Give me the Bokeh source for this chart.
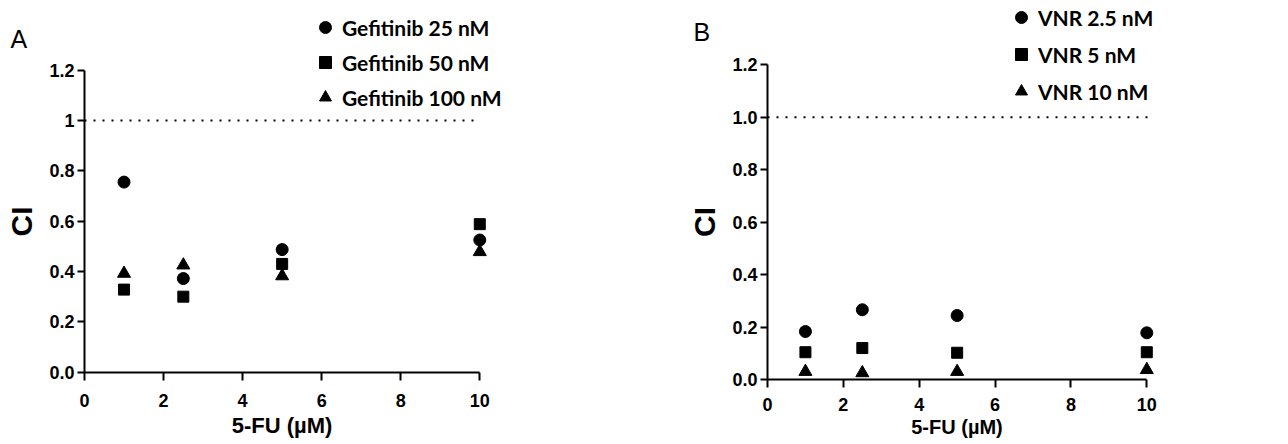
from bokeh.plotting import figure
from bokeh.layouts import row
from bokeh.models import Legend, LegendItem, FixedTicker, NumeralTickFormatter, Label
from bokeh.embed import file_html
from bokeh.resources import INLINE

# ---- data ----
fu_conc = [1, 2.5, 5, 10]

gef_names = ["Gefitinib 25 nM", "Gefitinib 50 nM", "Gefitinib 100 nM"]
gef_25 = [0.755, 0.372, 0.487, 0.525]
gef_50 = [0.328, 0.300, 0.430, 0.588]
gef_100 = [0.392, 0.425, 0.382, 0.478]

vnr_names = ["VNR 2.5 nM", "VNR 5 nM", "VNR 10 nM"]
vnr_25 = [0.183, 0.266, 0.244, 0.178]
vnr_5 = [0.104, 0.120, 0.102, 0.104]
vnr_10 = [0.030, 0.025, 0.030, 0.037]

ci_ticks = [0, 0.2, 0.4, 0.6, 0.8, 1, 1.2]
ci_labels_a = ["0.0", "0.2", "0.4", "0.6", "0.8", "1", "1.2"]
ci_labels_b = ["0.0", "0.2", "0.4", "0.6", "0.8", "1.0", "1.2"]
fu_ticks = [0, 2, 4, 6, 8, 10]
ref_ci = 1.0
ref_x = [0, 10]

x_title = "5-FU (\u00b5M)"
y_title = "CI"

MARKERS = ["circle", "square", "triangle"]
SIZES = [12, 11, 13]


def make_panel(width, x_range, y_range, series, names, tick_labels,
               letter, letter_pos, legend_pos, spacing, xlab_size, ref_end,
               xl_standoff, xt_standoff):
    p = figure(width=width, height=444, x_range=x_range, y_range=y_range,
               output_backend="svg", toolbar_location=None,
               min_border_left=0, min_border_right=0, min_border_top=0,
               min_border_bottom=0)
    p.outline_line_color = None
    p.grid.visible = False
    p.background_fill_color = "white"

    p.line([ref_x[0], ref_end], [ref_ci, ref_ci], line_dash="2 7",
           line_width=2, color="black")

    items = []
    for vals, name, m, s in zip(series, names, MARKERS, SIZES):
        r = p.scatter(fu_conc, vals, marker=m, size=s, color="black")
        items.append(LegendItem(label=name, renderers=[r]))

    leg = Legend(items=items, location=legend_pos, spacing=spacing,
                 padding=0, margin=0, glyph_width=30, glyph_height=30,
                 label_height=30, label_standoff=2,
                 border_line_alpha=0, background_fill_alpha=0,
                 label_text_font="Lato", label_text_font_style="bold",
                 label_text_font_size="21px", label_text_color="black")
    p.add_layout(leg)

    p.add_layout(Label(x=letter_pos[0], y=letter_pos[1], text=letter,
                       text_font="Liberation Sans", text_font_size="25px",
                       text_color="black", text_baseline="middle"))

    for ax in (p.xaxis[0], p.yaxis[0]):
        ax.axis_line_width = 2
        ax.axis_line_color = "black"
        ax.major_tick_line_width = 2
        ax.major_tick_line_color = "black"
        ax.minor_tick_line_color = None
        ax.major_tick_in = 0
        ax.major_label_text_font = "Liberation Sans"
        ax.major_label_text_font_style = "bold"
        ax.major_label_text_font_size = "18px"
        ax.major_label_text_color = "black"
        ax.axis_label_text_font = "Liberation Sans"
        ax.axis_label_text_font_style = "bold"
        ax.axis_label_text_color = "black"

    xa = p.xaxis[0]
    xa.fixed_location = 0
    xa.ticker = FixedTicker(ticks=fu_ticks)
    xa.bounds = (fu_ticks[0], fu_ticks[-1])
    xa.major_tick_out = 8
    xa.major_label_standoff = xt_standoff
    xa.axis_label = x_title
    xa.axis_label_text_font_size = xlab_size
    xa.axis_label_standoff = xl_standoff

    ya = p.yaxis[0]
    ya.fixed_location = 0
    ya.ticker = FixedTicker(ticks=ci_ticks)
    ya.formatter = NumeralTickFormatter(format="0.0")
    ya.major_label_overrides = {t: lab for t, lab in zip(ci_ticks, tick_labels)}
    ya.bounds = (ci_ticks[0], ci_ticks[-1])
    ya.major_tick_out = 7
    ya.major_label_standoff = 3
    ya.axis_label = y_title
    ya.axis_label_text_font_size = "30px"
    ya.axis_label_standoff = 8
    return p


pA = make_panel(638, (-2.125, 14.015), (-0.2871, 1.4762),
                [gef_25, gef_50, gef_100], gef_names, ci_labels_a,
                "A", (-1.87, 1.325), (310, 332), 5, "22px", 9.9, 2, 14)
pB = make_panel(650, (-3.401, 13.736), (-0.2479, 1.4455),
                [vnr_25, vnr_5, vnr_10], vnr_names, ci_labels_b,
                "B", (-1.95, 1.326), (368, 338), 7, "20px", 10.05, 2, 10)

layout = row(pA, pB)
open("out.html", "w").write(file_html(layout, INLINE))
